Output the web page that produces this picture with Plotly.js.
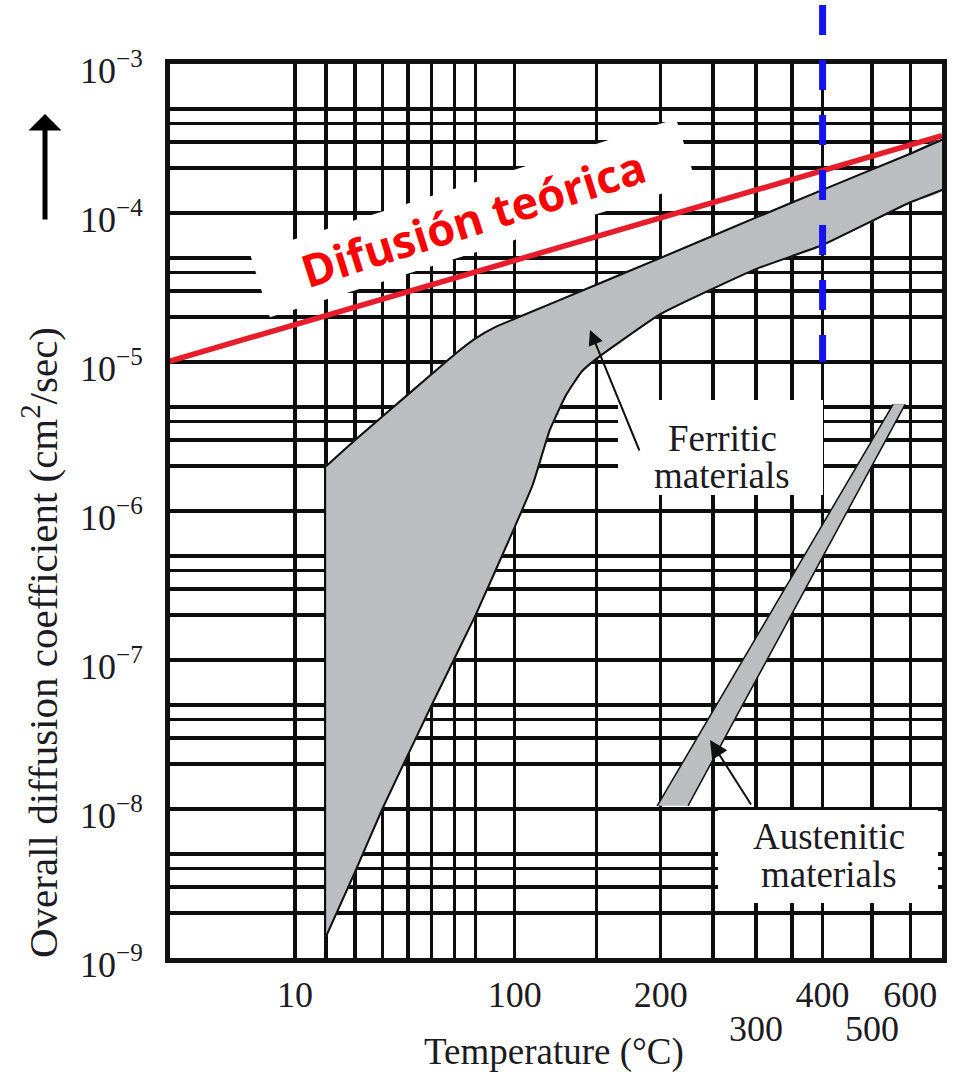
<!DOCTYPE html>
<html>
<head>
<meta charset="utf-8">
<script src="https://cdn.plot.ly/plotly-3.0.1.min.js"></script>
<style>
  html, body { margin: 0; padding: 0; background: #fff; }
  #chart { width: 953px; height: 1072px; }
</style>
</head>
<body>
<div id="chart"></div>
<script>
// Arrhenius-type temperature axis: position is linear in 1000/T (T in kelvin), hotter to the right
const toU = c => 1000 / (c + 273.15);

// Axis extent (°C) and grid
const xRangeT = [-24.2, 705];
const labelTemps = [10, 100, 200, 400, 600];
const lowerRowTemps = [300, 500];
const minorGridTemps = [20, 30, 40, 50, 60, 70, 80, 150, 250, 300, 350, 500];
const decadeExps = [-9, -8, -7, -6, -5, -4, -3];
const minorMantissas = [2, 3, 4, 5];

// Ferritic materials band (cm²/s)
const ferriticUpperT = [20, 30, 40, 60, 70, 80, 90, 100, 150, 200, 300, 400, 600, 705];
const ferriticUpperD = [2.0e-6, 3.0e-6, 4.3e-6, 8.3e-6, 1.12e-5, 1.44e-5, 1.72e-5, 1.95e-5, 3.3e-5, 5.0e-5, 9.3e-5, 1.43e-4, 2.5e-4, 3.1e-4];
const ferriticLowerT = [20, 30, 40, 50, 60, 80, 100, 110, 120, 130, 140, 150, 200, 300, 400, 600, 705];
const ferriticLowerD = [1.4e-9, 3.8e-9, 1.0e-8, 2.3e-8, 5.0e-8, 2.0e-7, 7.8e-7, 1.5e-6, 3.5e-6, 6.0e-6, 8.6e-6, 1.05e-5, 2.1e-5, 4.2e-5, 6.1e-5, 1.18e-4, 1.43e-4];

// Austenitic materials band: left and right edges
const austLeftT = [197, 552];
const austLeftD = [1.05e-8, 5.2e-6];
const austRightT = [225, 585];
const austRightD = [1.05e-8, 5.2e-6];

// Theoretical diffusion line
const theoryT = [-25, 705];
const theoryD = [1.0e-5, 3.3e-4];

// Reference temperature marker
const markerTemp = 400;
const markerFromD = 1.0e-5;

const serif = 'Liberation Serif, Times New Roman, serif';
const ink = '#1c1a22';

// Ferritic polygon: upper edge forward, lower edge back
const ferriticX = ferriticUpperT.map(toU).concat(ferriticLowerT.slice().reverse().map(toU));
const ferriticY = ferriticUpperD.concat(ferriticLowerD.slice().reverse());

const austX = austLeftT.map(toU).concat(austRightT.slice().reverse().map(toU));
const austY = austLeftD.concat(austRightD.slice().reverse());

const traces = [
  { x: ferriticX, y: ferriticY, mode: 'lines', fill: 'toself', fillcolor: '#bcbdc0',
    line: { color: '#8d8d90', width: 1.5, shape: 'spline', smoothing: 0.4 }, hoverinfo: 'skip' },
  { x: ferriticUpperT.map(toU), y: ferriticUpperD, mode: 'lines',
    line: { color: '#111', width: 2, shape: 'spline', smoothing: 0.4 }, hoverinfo: 'skip' },
  { x: ferriticLowerT.map(toU), y: ferriticLowerD, mode: 'lines',
    line: { color: '#111', width: 2, shape: 'spline', smoothing: 0.4 }, hoverinfo: 'skip' },
  { x: austX, y: austY, mode: 'lines', fill: 'toself', fillcolor: '#bcbdc0',
    line: { color: '#9a9a9d', width: 1 }, hoverinfo: 'skip' },
  { x: austLeftT.map(toU), y: austLeftD, mode: 'lines', line: { color: '#111', width: 1.5 }, hoverinfo: 'skip' },
  { x: austRightT.map(toU), y: austRightD, mode: 'lines', line: { color: '#111', width: 1.5 }, hoverinfo: 'skip' },
  { x: theoryT.map(toU), y: theoryD, mode: 'lines', line: { color: '#e61e2b', width: 5.5 }, hoverinfo: 'skip' }
];

// Log grid: decades labelled, 2..5 × 10^n as minor lines
const yMajorVals = decadeExps.map(e => Math.pow(10, e));
const yMajorText = decadeExps.map(e => '10<sup>\u2212' + (-e) + '</sup>');
const yMinorVals = [];
decadeExps.slice(0, -1).forEach(e => minorMantissas.forEach(m => yMinorVals.push(m * Math.pow(10, e))));

const paperX = px => (px - 170) / 772;
const paperY = py => (958 - py) / 894;
const logPaper = d => (Math.log10(d) + 9) / 6;

const label = (x, y, text, extra) => Object.assign({
  xref: 'paper', yref: 'paper', x: x, y: y, text: text, showarrow: false,
  xanchor: 'center', yanchor: 'middle', font: { family: serif, size: 37, color: ink }
}, extra || {});

const annotations = [
  // theoretical diffusion label on a rotated white card
  label(paperX(473), paperY(218), 'Difusión teórica', {
    textangle: -17.5, bgcolor: '#ffffff', width: 440, height: 60, borderpad: 3,
    font: { family: 'Open Sans, sans-serif', size: 45, color: '#ff0000', weight: 700 } }),
  // material labels
  label(paperX(722), paperY(438), 'Ferritic'),
  label(paperX(722), paperY(476), 'materials'),
  label(paperX(829), paperY(836), 'Austenitic'),
  label(paperX(829), paperY(874), 'materials'),
  // pointer arrows
  { xref: 'paper', yref: 'paper', x: paperX(590), y: paperY(330), ax: 50, ay: 122, text: '',
    showarrow: true, arrowhead: 2, arrowsize: 1.5, arrowwidth: 2, arrowcolor: '#111' },
  { xref: 'paper', yref: 'paper', x: paperX(710), y: paperY(740), ax: 42, ay: 66, text: '',
    showarrow: true, arrowhead: 2, arrowsize: 1.8, arrowwidth: 2, arrowcolor: '#111' },
  // second row of temperature labels
  ...lowerRowTemps.map(t => label(toU(t), paperY(1029), String(t),
    { xref: 'x', font: { family: serif, size: 36, color: ink } })),
  // axis titles
  label(paperX(554), paperY(1052), 'Temperature (°C)'),
  label(paperX(40), paperY(643), 'Overall diffusion coefficient (cm<sup>2</sup>/sec)',
    { textangle: -90, font: { family: serif, size: 41, color: ink } }),
  // upward arrow beside the y title
  { xref: 'paper', yref: 'paper', x: paperX(45), y: paperY(114), ax: 0, ay: 107, text: '',
    showarrow: true, arrowhead: 1, arrowsize: 1.1, arrowwidth: 5, arrowcolor: '#000' }
];

const shapes = [
  // white label cards over the grid
  { type: 'rect', layer: 'above', xref: 'paper', yref: 'paper',
    x0: paperX(618), x1: paperX(823), y0: paperY(495), y1: paperY(400),
    fillcolor: '#ffffff', line: { width: 0 } },
  { type: 'rect', layer: 'above', xref: 'paper', yref: 'paper',
    x0: paperX(718), x1: paperX(938), y0: paperY(903), y1: paperY(810),
    fillcolor: '#ffffff', line: { width: 0 } },
  // dashed marker at the reference temperature
  { type: 'line', layer: 'above', xref: 'x', yref: 'paper',
    x0: toU(markerTemp), x1: toU(markerTemp), y0: paperY(5), y1: logPaper(markerFromD),
    line: { color: '#1414f0', width: 7, dash: '30px,25px' } }
];

const axisFont = { family: serif, size: 36, color: ink };
const gridStyle = { showgrid: true, gridcolor: '#0d0d0d', gridwidth: 3.5 };

const layout = {
  width: 953,
  height: 1072,
  margin: { l: 170, r: 11, t: 64, b: 114 },
  paper_bgcolor: '#ffffff',
  plot_bgcolor: '#ffffff',
  showlegend: false,
  xaxis: Object.assign({
    type: 'linear',
    range: xRangeT.map(toU),
    tickmode: 'array', tickvals: labelTemps.map(toU), ticktext: labelTemps.map(String),
    ticks: '', ticklabelstandoff: 1, tickfont: axisFont,
    minor: Object.assign({ tickmode: 'array', tickvals: minorGridTemps.map(toU), ticks: '' }, gridStyle),
    zeroline: false,
    showline: true, linecolor: '#111', linewidth: 5, mirror: true,
    fixedrange: true
  }, gridStyle),
  yaxis: Object.assign({
    type: 'log',
    range: [-9, -3],
    tickmode: 'array', tickvals: yMajorVals, ticktext: yMajorText,
    ticks: '', ticklabelstandoff: 15, ticklabelshift: 6, tickfont: axisFont,
    minor: Object.assign({ tickmode: 'array', tickvals: yMinorVals, ticks: '' }, gridStyle),
    zeroline: false,
    showline: true, linecolor: '#111', linewidth: 5, mirror: true,
    fixedrange: true
  }, gridStyle),
  annotations: annotations,
  shapes: shapes
};

Plotly.newPlot('chart', traces, layout, { displayModeBar: false, staticPlot: true });
</script>
</body>
</html>
